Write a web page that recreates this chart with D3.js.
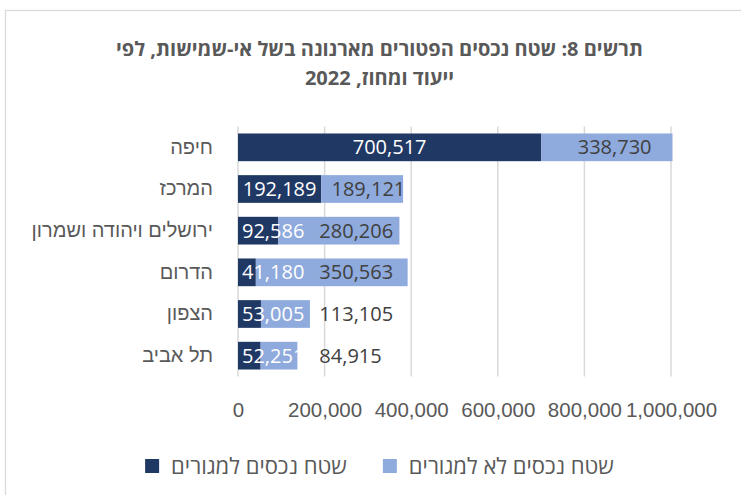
<!DOCTYPE html>
<html lang="he">
<head>
<meta charset="utf-8">
<script src="https://cdn.jsdelivr.net/npm/d3@7"></script>
<style>
  html, body { margin: 0; padding: 0; background: #ffffff; }
  svg { display: block; font-family: "Open Sans", "Liberation Sans", "DejaVu Sans", sans-serif; }
</style>
</head>
<body>
<svg id="chart" width="741" height="495"></svg>
<script>
// Exempt property area by district and use
const titleLines = [
  "תרשים 8: שטח נכסים הפטורים מארנונה בשל אי-שמישות, לפי",
  "ייעוד ומחוז, 2022"
];
const categories = ["חיפה", "המרכז", "ירושלים ויהודה ושמרון", "הדרום", "הצפון", "תל אביב"];
const residential = [700517, 192189, 92586, 41180, 53005, 52251];
const nonResidential = [338730, 189121, 280206, 350563, 113105, 84915];
const seriesNames = ["שטח נכסים למגורים", "שטח נכסים לא למגורים"];
const xTicks = [0, 200000, 400000, 600000, 800000, 1000000];
const xMax = 1000000;

const colors = { res: "#203864", non: "#8FAADC", text: "#595959", label: "#404040", grid: "#D9D9D9" };
const fmt = d3.format(",");

const svg = d3.select("#chart");

// outer chart frame (runs past the right and bottom edges)
const frame = { x: 5, y: 10, w: 749, h: 520 };
svg.append("rect")
  .attr("x", frame.x + 0.5).attr("y", frame.y + 0.5)
  .attr("width", frame.w).attr("height", frame.h)
  .attr("fill", "#ffffff").attr("stroke", "#D9D9D9").attr("stroke-width", 1.3);
const cx = frame.x + frame.w / 2;

// title
svg.append("g").selectAll("text").data(titleLines).join("text")
  .attr("x", cx)
  .attr("y", (d, i) => 56 + i * 29)
  .attr("text-anchor", "middle")
  .attr("direction", "rtl")
  .style("unicode-bidi", "embed")
  .attr("font-size", 20)
  .attr("font-weight", "bold")
  .attr("fill", colors.text)
  .text(d => d);

// scales
const plot = { left: 238, right: 671, top: 126.5, bottom: 376.5 };
const x = d3.scaleLinear().domain([0, xMax]).range([plot.left, plot.right]);
const y = d3.scaleBand().domain(categories).range([plot.top, plot.bottom])
  .paddingInner(0.335).paddingOuter(0.1675);

// gridlines
svg.append("g").selectAll("line").data(xTicks).join("line")
  .attr("x1", d => x(d)).attr("x2", d => x(d))
  .attr("y1", plot.top).attr("y2", plot.bottom)
  .attr("stroke", colors.grid).attr("stroke-width", 1.5);

// x axis labels
const xAxis = d3.axisBottom(x).tickValues(xTicks).tickFormat(fmt).tickSize(0).tickPadding(0);
const gx = svg.append("g").attr("transform", `translate(0,${plot.bottom + 33})`).call(xAxis);
gx.select(".domain").remove();
gx.selectAll("text")
  .attr("font-size", 20.5).attr("fill", colors.text)
  .attr("font-family", null)
  .attr("dy", "0.35em");

// category labels
const yAxis = d3.axisLeft(y).tickSize(0).tickPadding(25);
const gy = svg.append("g").attr("transform", `translate(${plot.left},0)`).call(yAxis);
gy.select(".domain").remove();
gy.selectAll("text")
  .attr("font-size", 20).attr("fill", colors.text)
  .attr("font-family", null);

// stacked bars, clipped at the axis maximum
svg.append("defs").append("clipPath").attr("id", "plotClip")
  .append("rect")
  .attr("x", plot.left).attr("y", plot.top - 5)
  .attr("width", x(xMax) - plot.left + 1.5).attr("height", plot.bottom - plot.top + 10);

const rows = categories.map((c, i) => ({ cat: c, a: residential[i], b: nonResidential[i] }));
const bars = svg.append("g").attr("clip-path", "url(#plotClip)");
bars.selectAll("rect.res").data(rows).join("rect").attr("class", "res")
  .attr("x", x(0)).attr("y", d => y(d.cat))
  .attr("width", d => x(d.a) - x(0)).attr("height", y.bandwidth())
  .attr("fill", colors.res);
bars.selectAll("rect.non").data(rows).join("rect").attr("class", "non")
  .attr("x", d => x(d.a)).attr("y", d => y(d.cat))
  .attr("width", d => x(d.a + d.b) - x(d.a)).attr("height", y.bandwidth())
  .attr("fill", colors.non);

// value labels: centred on each segment, nudged right to clear the neighbour
const labelSize = 20;
const labels = svg.append("g");
rows.forEach(d => {
  const yc = y(d.cat) + y.bandwidth() / 2;
  const t1 = labels.append("text")
    .attr("font-size", labelSize).attr("fill", "#ffffff")
    .attr("dy", "0.35em").attr("text-anchor", "start")
    .text(fmt(d.a));
  const w1 = t1.node().getComputedTextLength();
  const left1 = Math.max((x(0) + x(d.a)) / 2 - w1 / 2, plot.left + 4);
  t1.attr("x", left1).attr("y", yc);
  const right1 = left1 + w1;

  const t2 = labels.append("text")
    .attr("font-size", labelSize).attr("fill", colors.label)
    .attr("dy", "0.35em").attr("text-anchor", "start")
    .text(fmt(d.b));
  const w2 = t2.node().getComputedTextLength();
  const left2 = Math.max(x(d.a + d.b / 2) - w2 / 2, right1 + 15);
  t2.attr("x", left2).attr("y", yc);
});

// legend
const legend = svg.append("g");
const sw = 14, swGap = 12, itemGap = 36, legY = 466;
const items = seriesNames.map((name, i) => {
  const g = legend.append("g");
  g.append("rect").attr("width", sw).attr("height", sw).attr("y", legY - sw / 2)
    .attr("fill", i === 0 ? colors.res : colors.non);
  const t = g.append("text").attr("x", sw + swGap).attr("y", legY).attr("dy", "0.35em")
    .attr("font-size", 22).attr("fill", colors.text).text(name);
  return { g, w: sw + swGap + t.node().getComputedTextLength() };
});
const totalW = d3.sum(items, d => d.w) + itemGap * (items.length - 1);
let lx = cx - totalW / 2;
items.forEach(it => { it.g.attr("transform", `translate(${lx},0)`); lx += it.w + itemGap; });
</script>
</body>
</html>
